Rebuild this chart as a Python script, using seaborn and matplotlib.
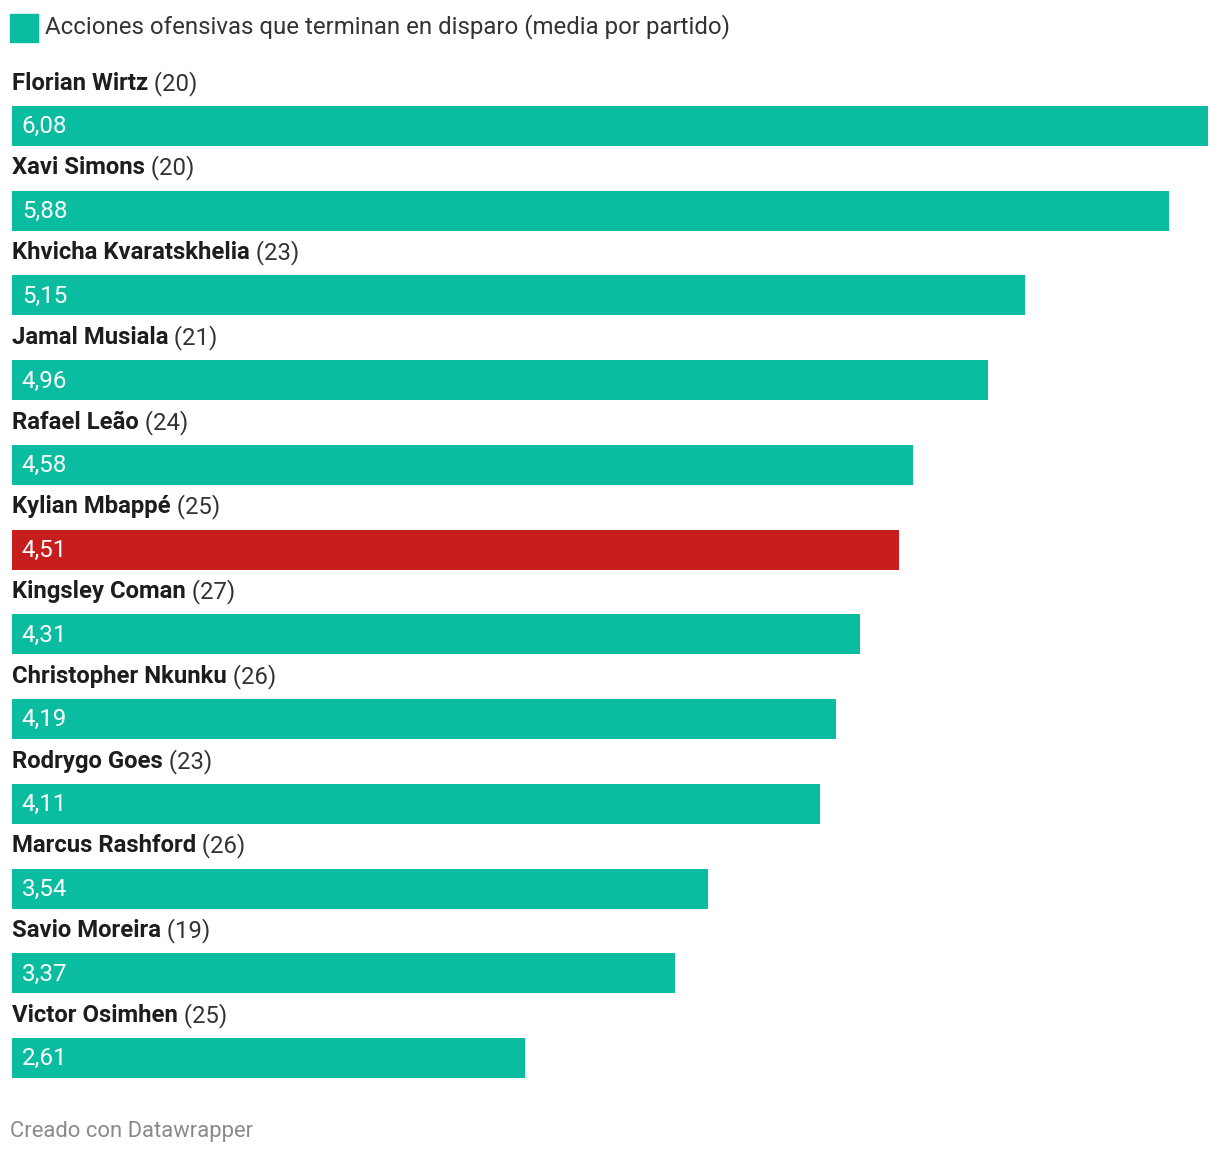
import matplotlib
matplotlib.use("Agg")
import matplotlib.pyplot as plt
import seaborn as sns
import pandas as pd

# data
players = ["Florian Wirtz", "Xavi Simons", "Khvicha Kvaratskhelia", "Jamal Musiala",
           "Rafael Leão", "Kylian Mbappé", "Kingsley Coman", "Christopher Nkunku",
           "Rodrygo Goes", "Marcus Rashford", "Savio Moreira", "Victor Osimhen"]
ages = [20, 20, 23, 21, 24, 25, 27, 26, 23, 26, 19, 25]
shots_actions = [6.08, 5.88, 5.15, 4.96, 4.58, 4.51, 4.31, 4.19, 4.11, 3.54, 3.37, 2.61]
highlight = "Kylian Mbappé"

TEAL = "#0BBDA0"
RED = "#C71E1D"

df = pd.DataFrame({"player": players, "age": ages, "value": shots_actions})
colors = [RED if p == highlight else TEAL for p in players]

sns.set_style("white")
plt.rcParams["font.family"] = ["Roboto", "DejaVu Sans"]

W, H = 1220, 1154
fig = plt.figure(figsize=(W / 100, H / 100), dpi=100)
ax = fig.add_axes([12 / W, 0, (1208 - 12) / W, 1])

sns.barplot(data=df, y="player", x="value", hue="player", palette=colors,
            legend=False, width=0.472, ax=ax, saturation=1, linewidth=0)

# map bar rows to pixel positions: first centre at 126px, step ~84.7px
step = 84.73
ax.set_ylim((H - 126) / step, -126 / step)
ax.set_xlim(0, max(shots_actions))
ax.axis("off")

FS = 17.2
for i, row in df.iterrows():
    t = ax.text(0, i - 0.505, row["player"], fontsize=FS, fontweight="bold",
                color="#1d1d1d", va="center", ha="left")
    ax.annotate(f" ({row['age']})", xy=(1, 0.5), xycoords=t, fontsize=FS,
                color="#333333", va="center", ha="left")
    ax.text(0.05, i + 0.01, f"{row['value']:.2f}".replace(".", ","), fontsize=17.4,
            color="white", va="center", ha="left")

# legend square + text
fig.patches.append(plt.Rectangle((10 / W, 1 - 42 / H), 28 / W, 28 / H,
                                 transform=fig.transFigure, color=TEAL))
fig.text(45 / W, 1 - 27 / H, "Acciones ofensivas que terminan en disparo (media por partido)",
         fontsize=17.3, color="#333333", va="center", ha="left")

fig.text(10 / W, 1 - 1131 / H, "Creado con Datawrapper", fontsize=15.8,
         color="#8a8a8a", va="center", ha="left")

fig.savefig("out.png", dpi=100)
